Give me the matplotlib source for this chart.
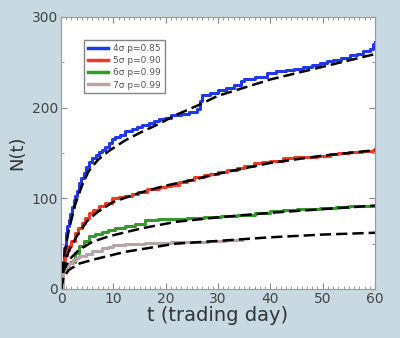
import numpy as np
import matplotlib.pyplot as plt
from matplotlib.ticker import MultipleLocator

#%% DATA
# step curves: number of events N(t)
t_4s = [0, 0.2, 0.5, 0.9, 1.2, 1.5, 1.8, 2.1, 2.4, 2.7, 3.0, 3.4, 3.8, 4.3, 4.8, 5.3, 5.9, 6.6, 7.2, 7.8, 8.5, 9.1, 9.8, 10.4, 11.3, 12.3, 13.5, 14.5, 15.5, 16.8, 17.8, 18.7, 19.8, 21.0, 23.0, 24.5, 26.0, 26.5, 27.0, 28.5, 30.0, 31.5, 33.0, 34.3, 35.0, 37.0, 39.4, 41.0, 43.0, 44.5, 46.3, 48.0, 49.5, 50.8, 52.0, 53.5, 55.2, 56.5, 57.7, 59.0, 59.7, 60]
N_4s = [0, 25, 45, 62, 70, 76, 83, 90, 98, 103, 108, 117, 122, 128, 134, 140, 144, 148, 151, 153, 157, 161, 165, 168, 170, 174, 176, 179, 181, 183, 185, 187, 189, 192, 193, 195, 198, 207, 214, 216, 219, 222, 225, 229, 231, 234, 238, 240, 242, 243, 245, 247, 249, 251, 253, 255, 258, 259, 262, 265, 270, 272]

t_5s = [0, 0.2, 0.5, 0.8, 1.2, 1.5, 2.0, 2.7, 3.3, 4.0, 4.6, 5.3, 6.2, 7.2, 8.4, 9.7, 11.0, 12.3, 13.5, 14.8, 16.5, 18.7, 20.0, 21.0, 22.5, 24.0, 25.5, 27.3, 28.5, 30.0, 31.8, 33.6, 35.0, 36.8, 38.5, 40.0, 42.5, 44.5, 47.0, 49.0, 51.4, 53.0, 55.0, 57.5, 59.7, 60]
N_5s = [0, 25, 32, 38, 43, 47, 53, 62, 67, 73, 78, 84, 87, 91, 95, 100, 101, 102, 105, 107, 110, 113, 114, 115, 118, 120, 123, 126, 127, 129, 131, 133, 136, 139, 140, 141, 144, 145, 146, 147, 149, 150, 151, 152, 153, 154]

t_6s = [2.0, 2.7, 3.4, 4.3, 5.3, 6.5, 7.8, 9.0, 10.4, 12.3, 14.2, 16.0, 18.5, 21.0, 24.0, 27.3, 30.5, 33.6, 37.0, 40.0, 42.5, 45.0, 49.5, 52.5, 55.0, 57.5, 59.7, 60]
N_6s = [30, 40, 47, 53, 58, 61, 63, 65, 67, 70, 72, 76, 77, 77, 78, 79, 81, 82, 84, 86, 87, 88, 89, 90, 91, 91, 92, 92]

t_7s = [0, 0.3, 1.0, 1.6, 2.2, 2.8, 3.5, 4.7, 6.0, 7.8, 9.0, 10.0, 12.3, 14.0, 16.0, 18.5, 21.0, 24.5, 28.0, 31.5, 34.6]
N_7s = [0, 19, 25, 29, 32, 34, 36, 39, 42, 45, 46, 48, 50, 50, 51, 51, 52, 52, 53, 54, 54]

# dashed fits
tf_4s = [0, 0.3, 0.9, 1.5, 2.7, 4, 5.3, 7, 9.1, 12.3, 15, 18.7, 22, 26, 30, 35, 40, 45, 50, 55, 60]
Nf_4s = [0, 25, 47, 65, 93, 114, 130, 142, 152, 164, 172, 182, 192, 202, 213, 222, 231, 238, 245, 252, 259]
tf_5s = [0, 0.5, 1.5, 3, 5, 7, 10, 15, 20, 25, 30, 35, 40, 45, 50, 55, 60]
Nf_5s = [0, 25, 42, 58, 75, 85, 96, 106, 114, 120, 127, 133, 139, 143, 147, 150, 153]
tf_6s = [0, 0.5, 1.5, 3.4, 6, 9.1, 15.5, 21.9, 30, 40, 50, 60]
Nf_6s = [0, 20, 32, 43, 52, 58, 67, 74, 79, 84, 88, 92]
tf_7s = [0, 0.5, 1.5, 3.5, 5.9, 12.3, 21.9, 30, 40, 50, 60]
Nf_7s = [0, 13, 21, 28, 32, 41, 50, 53, 57, 60, 62]

labels = ['4\u03c3 p=0.85', '5\u03c3 p=0.90', '6\u03c3 p=0.99', '7\u03c3 p=0.99']
colors = ['#1f38ec', '#f03a26', '#35992b', '#b8a4a4']

#%% PLOT
fig = plt.figure(figsize=(4, 3.38), dpi=100, facecolor='#c8d9e1')
ax = fig.add_axes([0.1525, 0.145, 0.785, 0.805])

steps = [(t_4s, N_4s), (t_5s, N_5s), (t_6s, N_6s), (t_7s, N_7s)]
fits = [(tf_4s, Nf_4s), (tf_5s, Nf_5s), (tf_6s, Nf_6s), (tf_7s, Nf_7s)]

for (t, N), c, lab in zip(steps, colors, labels):
    ax.step(t, N, where='post', color=c, lw=2.2, label=lab)
for t, N in fits:
    ax.plot(t, N, color='black', lw=1.8, ls=(0, (4.5, 2)))

ax.set_xlim(0, 60)
ax.set_ylim(0, 300)
ax.xaxis.set_major_locator(MultipleLocator(10))
ax.xaxis.set_minor_locator(MultipleLocator(1))
ax.yaxis.set_major_locator(MultipleLocator(100))
ax.yaxis.set_minor_locator(MultipleLocator(50))
ax.tick_params(which='both', direction='in', top=True, right=True, colors='#888888',
               labelcolor='#444444', labelsize=10, pad=2)
ax.tick_params(which='major', length=4)
ax.tick_params(which='minor', length=2.5)
for s in ax.spines.values():
    s.set_color('#999999')

ax.set_xlabel('t (trading day)', fontsize=14, color='#333333', labelpad=0)
ax.set_ylabel('N(t)', fontsize=13, color='#333333', labelpad=4)

leg = ax.legend(loc='upper left', bbox_to_anchor=(0.06, 0.93), fontsize=6.5, frameon=True,
                fancybox=False, edgecolor='#666666', handlelength=2.2, borderpad=0.4,
                labelspacing=0.35, handletextpad=0.6)
for line in leg.get_lines():
    line.set_linewidth(2.5)
for txt in leg.get_texts():
    txt.set_color('#555555')

fig.savefig('out.png', dpi=100, facecolor=fig.get_facecolor())
